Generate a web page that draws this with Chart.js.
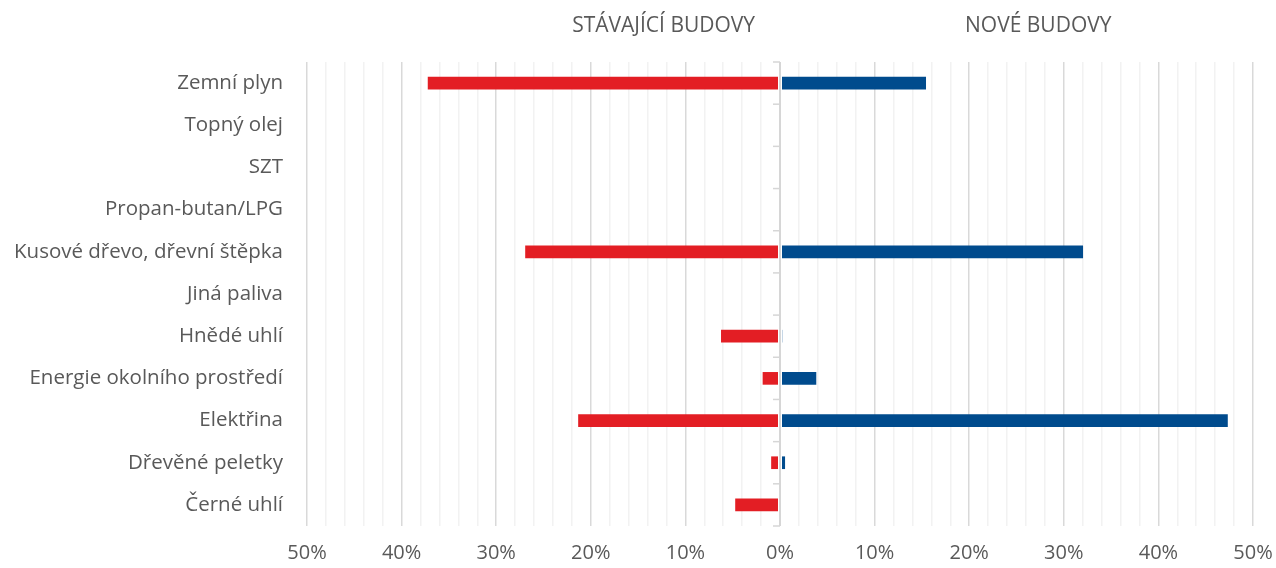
<!DOCTYPE html>
<html lang="cs">
<head>
<meta charset="utf-8">
<title>Podíl paliv – stávající a nové budovy</title>
<script src="https://cdn.jsdelivr.net/npm/chart.js@4/dist/chart.umd.min.js"></script>
<style>
  html, body { margin: 0; padding: 0; background: #ffffff; }
  #wrap { width: 1276px; height: 568px; position: relative; }
</style>
</head>
<body>
<div id="wrap"><canvas id="c" width="1276" height="568"></canvas></div>
<script>
// Categories (top to bottom)
const categories = [
  'Zemní plyn',
  'Topný olej',
  'SZT',
  'Propan-butan/LPG',
  'Kusové dřevo, dřevní štěpka',
  'Jiná paliva',
  'Hnědé uhlí',
  'Energie okolního prostředí',
  'Elektřina',
  'Dřevěné peletky',
  'Černé uhlí'
];

// Share of heating source, % (existing buildings plotted to the left as negatives)
const existingBuildings = [37.2, 0, 0, 0, 26.9, 0.05, 6.2, 1.8, 21.3, 0.9, 4.7];
const newBuildings      = [15.4, 0, 0.05, 0, 32.0, 0, 0.2, 3.8, 47.3, 0.5, 0.1];

const panelTitles = ['STÁVAJÍCÍ BUDOVY', 'NOVÉ BUDOVY'];
const panelTitleAt = [-12.3, 27.3]; // x-axis values where the titles are centred

const xMin = -50, xMax = 50, minorStep = 2, majorStep = 10;

const textColor = '#595959';
const fontFamily = '"Open Sans", "Noto Sans", sans-serif';

// Zero axis with tick marks between categories, drawn over the bars
const zeroAxis = {
  id: 'zeroAxis',
  afterDatasetsDraw(chart) {
    const { ctx, chartArea, scales } = chart;
    const x0 = scales.x.getPixelForValue(0);
    const y = scales.y;
    ctx.save();
    ctx.strokeStyle = '#ffffff';
    ctx.lineWidth = 4;
    ctx.beginPath();
    ctx.moveTo(x0, chartArea.top);
    ctx.lineTo(x0, chartArea.bottom);
    ctx.stroke();
    ctx.strokeStyle = '#d6d6d6';
    ctx.lineWidth = 2;
    ctx.beginPath();
    ctx.moveTo(x0, chartArea.top);
    ctx.lineTo(x0, chartArea.bottom);
    ctx.stroke();
    ctx.lineWidth = 1.5;
    const n = categories.length;
    for (let i = 0; i <= n; i++) {
      const yy = y.getPixelForValue(i - 0.5);
      ctx.beginPath();
      ctx.moveTo(x0 - 7, yy);
      ctx.lineTo(x0, yy);
      ctx.stroke();
    }
    ctx.restore();
  }
};

// Section headings above each half of the chart
const panelHeadings = {
  id: 'panelHeadings',
  afterDraw(chart) {
    const { ctx, scales } = chart;
    ctx.save();
    ctx.fillStyle = textColor;
    ctx.font = '21px ' + fontFamily;
    ctx.textAlign = 'center';
    ctx.textBaseline = 'middle';
    panelTitles.forEach((t, i) => {
      ctx.fillText(t, scales.x.getPixelForValue(panelTitleAt[i]), 26);
    });
    ctx.restore();
  }
};

new Chart(document.getElementById('c'), {
  type: 'bar',
  data: {
    labels: categories,
    datasets: [
      {
        label: panelTitles[0],
        data: existingBuildings.map(v => -v),
        backgroundColor: '#e31e24',
        barThickness: 12
      },
      {
        label: panelTitles[1],
        data: newBuildings,
        backgroundColor: '#004b8d',
        barThickness: 12
      }
    ]
  },
  options: {
    indexAxis: 'y',
    responsive: false,
    animation: false,
    layout: { padding: { top: 62, right: 23, left: 0, bottom: 0 } },
    plugins: {
      legend: { display: false },
      tooltip: { enabled: false }
    },
    scales: {
      x: {
        min: xMin,
        max: xMax,
        stacked: true,
        border: { display: false },
        grid: {
          drawTicks: false,
          lineWidth: 1.5,
          color: ctx => {
            if (!ctx.tick) return '#f2f2f2';
            return ctx.tick.value % majorStep === 0 ? '#d9d9d9' : '#f2f2f2';
          }
        },
        ticks: {
          stepSize: minorStep,
          autoSkip: false,
          maxRotation: 0,
          padding: 15,
          color: textColor,
          font: { family: fontFamily, size: 20 },
          callback: v => (v % majorStep === 0 ? Math.abs(v) + '%' : '')
        },
        afterFit: s => {
          s.height = 42;
          s.paddingLeft = 0;
          s.paddingRight = 0;
        }
      },
      y: {
        stacked: true,
        border: { display: false },
        grid: { display: false },
        ticks: {
          padding: 16,
          color: textColor,
          font: { family: fontFamily, size: 20.5 }
        },
        afterFit: s => { s.width = 307; }
      }
    }
  },
  plugins: [zeroAxis, panelHeadings]
});
</script>
</body>
</html>
